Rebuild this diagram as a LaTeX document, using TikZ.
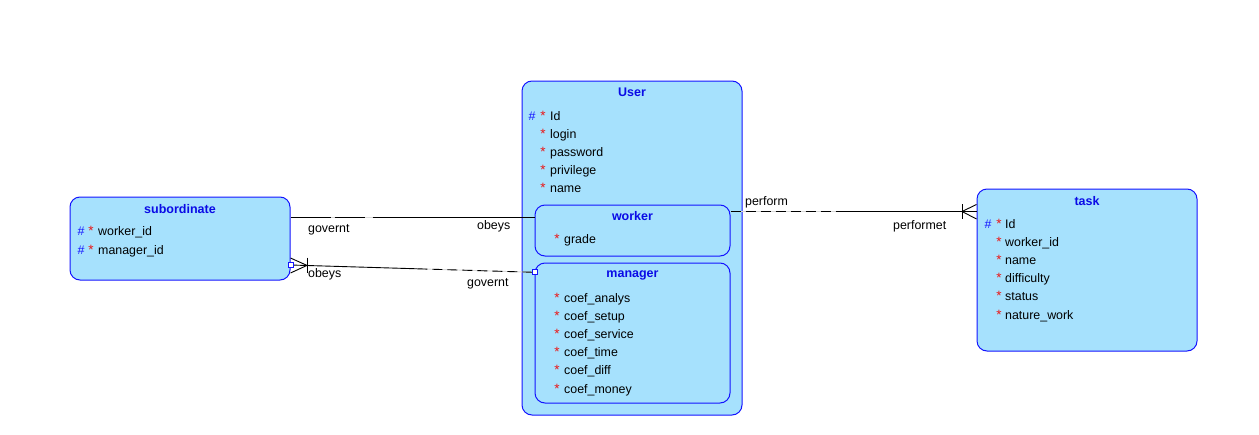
\documentclass[tikz,border=0pt]{standalone}
\usepackage{fontspec}
\setmainfont{Liberation Sans}
\usetikzlibrary{calc}
\definecolor{entfill}{RGB}{166,225,253}
\definecolor{entline}{RGB}{20,20,255}
\definecolor{ttl}{RGB}{10,10,230}
\definecolor{keyred}{RGB}{235,20,20}
\newcommand\erow[6]{%
  \ifx\relax#3\relax\else\node[hashs] (#1h) at (#3,#2) {\#};\fi
  \node[stars] (#1s) at (#4,#2) {*};
  \node[attr] (#1) at (#5,#2) {#6};}
\begin{document}
\begin{tikzpicture}[x=1pt,y=-1pt,
  entbox/.style={draw=entline, fill=entfill, line width=1pt, rounded corners=10pt, inner sep=0pt},
  ttlnode/.style={font=\fontsize{12.5}{14}\selectfont\bfseries, text=ttl, inner sep=0pt, anchor=base},
  hashs/.style={font=\fontsize{12.5}{14}\selectfont, text=entline, inner sep=0pt, anchor=base},
  stars/.style={font=\fontsize{13.5}{14}\selectfont, text=keyred, inner sep=0pt, anchor=base},
  attr/.style={font=\fontsize{12.4}{14}\selectfont, inner sep=0pt, anchor=base west},
  lbl/.style={font=\fontsize{12.4}{14}\selectfont, inner sep=0pt, anchor=base west},
  conn/.style={line width=0.9pt, black},
  dashconn/.style={line width=0.9pt, black, dash pattern=on 10pt off 5pt},
  gapline/.style={line width=0.9pt, black!15},
  sq/.style={draw=entline, fill=white, line width=1pt, minimum size=5pt, inner sep=0pt}
]
\useasboundingbox (0,0) rectangle (1259,434);

% entities
\node[entbox, minimum width=220pt, minimum height=83pt] (sub) at (180,238.5) {};
\node[entbox, minimum width=220pt, minimum height=334pt] (usr) at (632,248) {};
\node[entbox, minimum width=195pt, minimum height=51pt] (wk) at (632.5,230.5) {};
\node[entbox, minimum width=195pt, minimum height=140pt] (mgr) at (632.5,333) {};
\node[entbox, minimum width=220pt, minimum height=162pt] (tsk) at (1087,270) {};

% titles
\node[ttlnode] (subt) at (180,213) {subordinate};
\node[ttlnode] (usrt) at (632,96.5) {User};
\node[ttlnode] (wkt) at (632.5,220.5) {worker};
\node[ttlnode] (mgrt) at (632.5,277.5) {manager};
\node[ttlnode] (tskt) at (1087,205) {task};

% subordinate attributes
\erow{s1}{235.5}{81}{91}{98}{worker\_id}
\erow{s2}{254.5}{81}{91}{98}{manager\_id}

% User attributes
\erow{u1}{120.3}{532}{543}{550}{Id}
\erow{u2}{138.3}{}{543}{550}{login}
\erow{u3}{156.3}{}{543}{550}{password}
\erow{u4}{174.3}{}{543}{550}{privilege}
\erow{u5}{192.1}{}{543}{550}{name}

% worker
\erow{w1}{243.7}{}{557}{564}{grade}

% manager
\erow{m1}{302.4}{}{557}{564}{coef\_analys}
\erow{m2}{320.4}{}{557}{564}{coef\_setup}
\erow{m3}{338.4}{}{557}{564}{coef\_service}
\erow{m4}{356.4}{}{557}{564}{coef\_time}
\erow{m5}{374.4}{}{557}{564}{coef\_diff}
\erow{m6}{393.0}{}{557}{564}{coef\_money}

% task
\erow{t1}{228.0}{988}{999}{1005}{Id}
\erow{t2}{246.4}{}{999}{1005}{worker\_id}
\erow{t3}{264.4}{}{999}{1005}{name}
\erow{t4}{282.0}{}{999}{1005}{difficulty}
\erow{t5}{300.4}{}{999}{1005}{status}
\erow{t6}{319.0}{}{999}{1005}{nature\_work}

% connector 1: subordinate -- worker
\coordinate (c1a) at (sub.east |- {(0,217)});
\coordinate (c1b) at (wk.west |- c1a);
\coordinate (c1m) at ($(c1a)!0.5!(c1b)$);
\draw[gapline] (c1a) -- (c1m);
\draw[conn, dash pattern=on 40pt off 4pt on 30pt off 8pt] (c1a) -- (c1m);
\draw[conn] (c1m) -- (c1b);
\node[lbl] (l1a) at (308,232) {governt};
\node[lbl] (l1b) at (477,229.3) {obeys};

% connector 2: subordinate -- manager
\coordinate (c2a) at (sub.east |- {(0,265)});
\coordinate (c2b) at (mgr.west |- {(0,272.3)});
\coordinate (c2m) at ($(c2a)!0.52!(c2b)$);
\coordinate (c2f) at (307,265.4);
\draw[conn] (c2a) -- (c2m);
\draw[gapline] (c2m) -- (c2b);
\draw[dashconn] (c2m) -- (c2b);
\draw[conn] (c2a |- {(0,258)}) -- (c2f) -- (c2a |- {(0,273)});
\draw[conn] (307,257.5) -- (307,273);
\node[sq] (sq1) at (c2a) {};
\node[sq] (sq2) at (c2b) {};
\node[lbl] (l2a) at (308,277.7) {obeys};
\node[lbl] (l2b) at (467,286) {governt};

% connector 3: worker -- task
\coordinate (c3a) at (wk.east |- {(0,211.5)});
\coordinate (c3b) at (tsk.west |- c3a);
\coordinate (c3m) at ($(c3a)!0.47!(c3b)$);
\coordinate (c3f) at (962,211.5);
\draw[gapline] (c3a) -- (c3m);
\draw[dashconn] (c3a) -- (c3m);
\draw[conn] (c3m) -- (c3b);
\draw[conn] (c3b |- {(0,204.5)}) -- (c3f) -- (c3b |- {(0,219)});
\draw[conn] (962,204) -- (962,219);
\node[lbl] (l3a) at (745,205) {perform};
\node[lbl] (l3b) at (893,229.3) {performet};
\end{tikzpicture}
\end{document}
